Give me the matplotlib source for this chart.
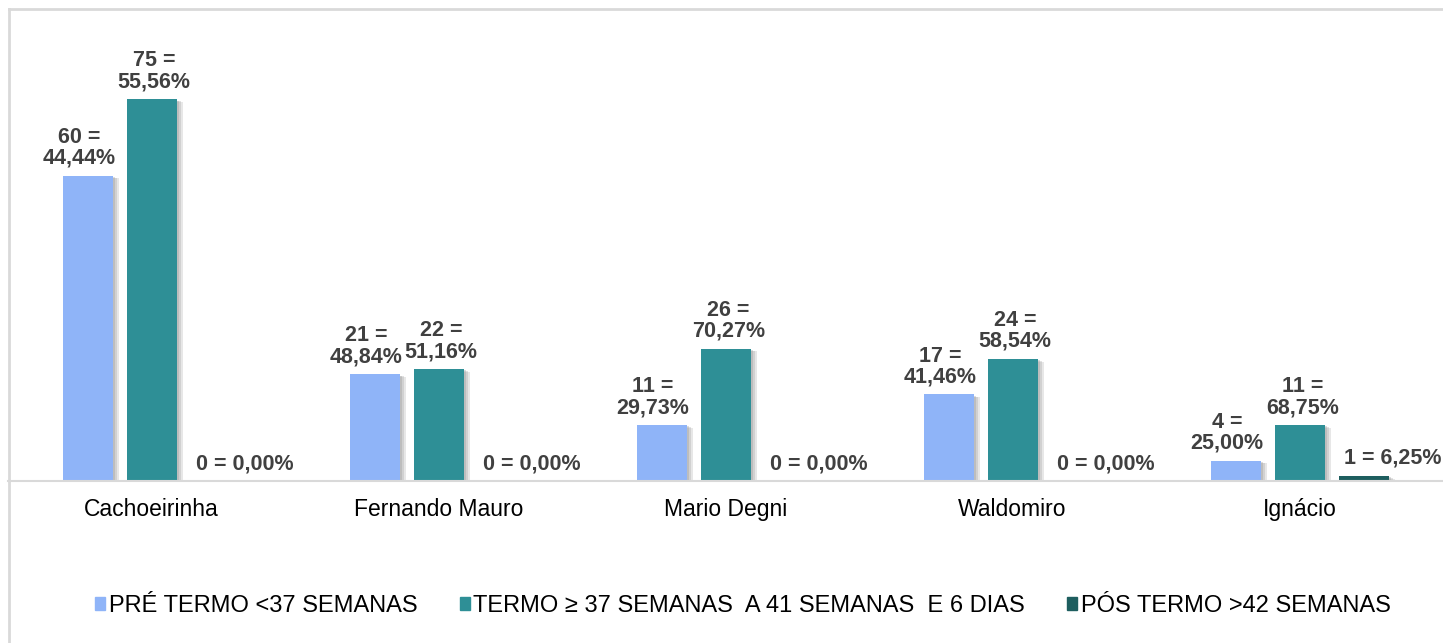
import numpy as np
import matplotlib.pyplot as plt
import matplotlib.patheffects as pe
from matplotlib.patches import Rectangle

plt.rcParams['font.family'] = ['Liberation Sans', 'DejaVu Sans']

categories = ["Cachoeirinha", "Fernando Mauro", "Mario Degni", "Waldomiro", "Ignácio"]
series_names = ["PRÉ TERMO <37 SEMANAS",
                "TERMO \u2265 37 SEMANAS  A 41 SEMANAS  E 6 DIAS",
                "PÓS TERMO >42 SEMANAS"]
counts_pre = [60, 21, 11, 17, 4]
counts_termo = [75, 22, 26, 24, 11]
counts_pos = [0, 0, 0, 0, 1]
pct_pre = ["44,44%", "48,84%", "29,73%", "41,46%", "25,00%"]
pct_termo = ["55,56%", "51,16%", "70,27%", "58,54%", "68,75%"]
pct_pos = ["0,00%", "0,00%", "0,00%", "0,00%", "6,25%"]

colors = ["#8fb4f8", "#2e8f96", "#1e5e5f"]

W, H = 1443, 643
fig = plt.figure(figsize=(W / 100, H / 100), dpi=100)
ax = fig.add_axes([8 / W, 162 / H, 1 - 8 / W, 458 / H])

# chart border (left and top visible)
fig.add_artist(plt.Line2D([8.5 / W, 8.5 / W], [0, 1 - 8.5 / H], transform=fig.transFigure,
                          color="#d9d9d9", lw=2))
fig.add_artist(plt.Line2D([8.5 / W, 1], [1 - 8.5 / H, 1 - 8.5 / H], transform=fig.transFigure,
                          color="#d9d9d9", lw=2))

x = np.arange(len(categories))
width = 50 / 287
offset = 64 / 287
shadow = [pe.SimplePatchShadow(offset=(4.5, -2), shadow_rgbFace="#b0b0b0", alpha=0.3),
          pe.SimplePatchShadow(offset=(3, -1.5), shadow_rgbFace="#a0a0a0", alpha=0.3),
          pe.SimplePatchShadow(offset=(1.5, -1), shadow_rgbFace="#909090", alpha=0.3),
          pe.Normal()]

# horizontal nudge of the labels per series (points)
label_dx = [-6, 2, 21]

all_counts = [counts_pre, counts_termo, counts_pos]
all_pcts = [pct_pre, pct_termo, pct_pos]
for i, (cnt, pct) in enumerate(zip(all_counts, all_pcts)):
    pos = x + (i - 1) * offset
    bars = ax.bar(pos, cnt, width, color=colors[i], zorder=3)
    for b in bars:
        if b.get_height() > 0:
            b.set_path_effects(shadow)
    for xp, c, p in zip(pos, cnt, pct):
        if i == 2:
            txt = f"{c} = {p}"
        else:
            txt = f"{c} =\n{p}"
        ax.annotate(txt, (xp, c), xytext=(label_dx[i], 5), textcoords="offset points",
                    ha="center", va="bottom", fontsize=15.5, fontweight="bold",
                    color="#404040", linespacing=1.0, zorder=5)

ax.set_xlim(-0.5, len(categories) - 0.5)
ax.set_ylim(0, 90)
ax.set_xticks(x)
ax.set_xticklabels(categories, fontsize=16.5, color="#000000")
ax.tick_params(axis="x", length=0, pad=12)
ax.set_yticks([])
for s in ["top", "right", "left"]:
    ax.spines[s].set_visible(False)
ax.spines["bottom"].set_color("#d9d9d9")
ax.spines["bottom"].set_linewidth(1.5)
ax.spines["bottom"].set_zorder(4)

handles = [Rectangle((0, 0), 1, 1, color=c) for c in colors]
fig.legend(handles, series_names, loc="center", bbox_to_anchor=(743 / W, 1 - 606 / H),
           ncol=3, frameon=False, fontsize=17, handlelength=0.42, handleheight=0.42,
           handletextpad=0.15, columnspacing=1.8)

fig.savefig("out.png", dpi=100)
